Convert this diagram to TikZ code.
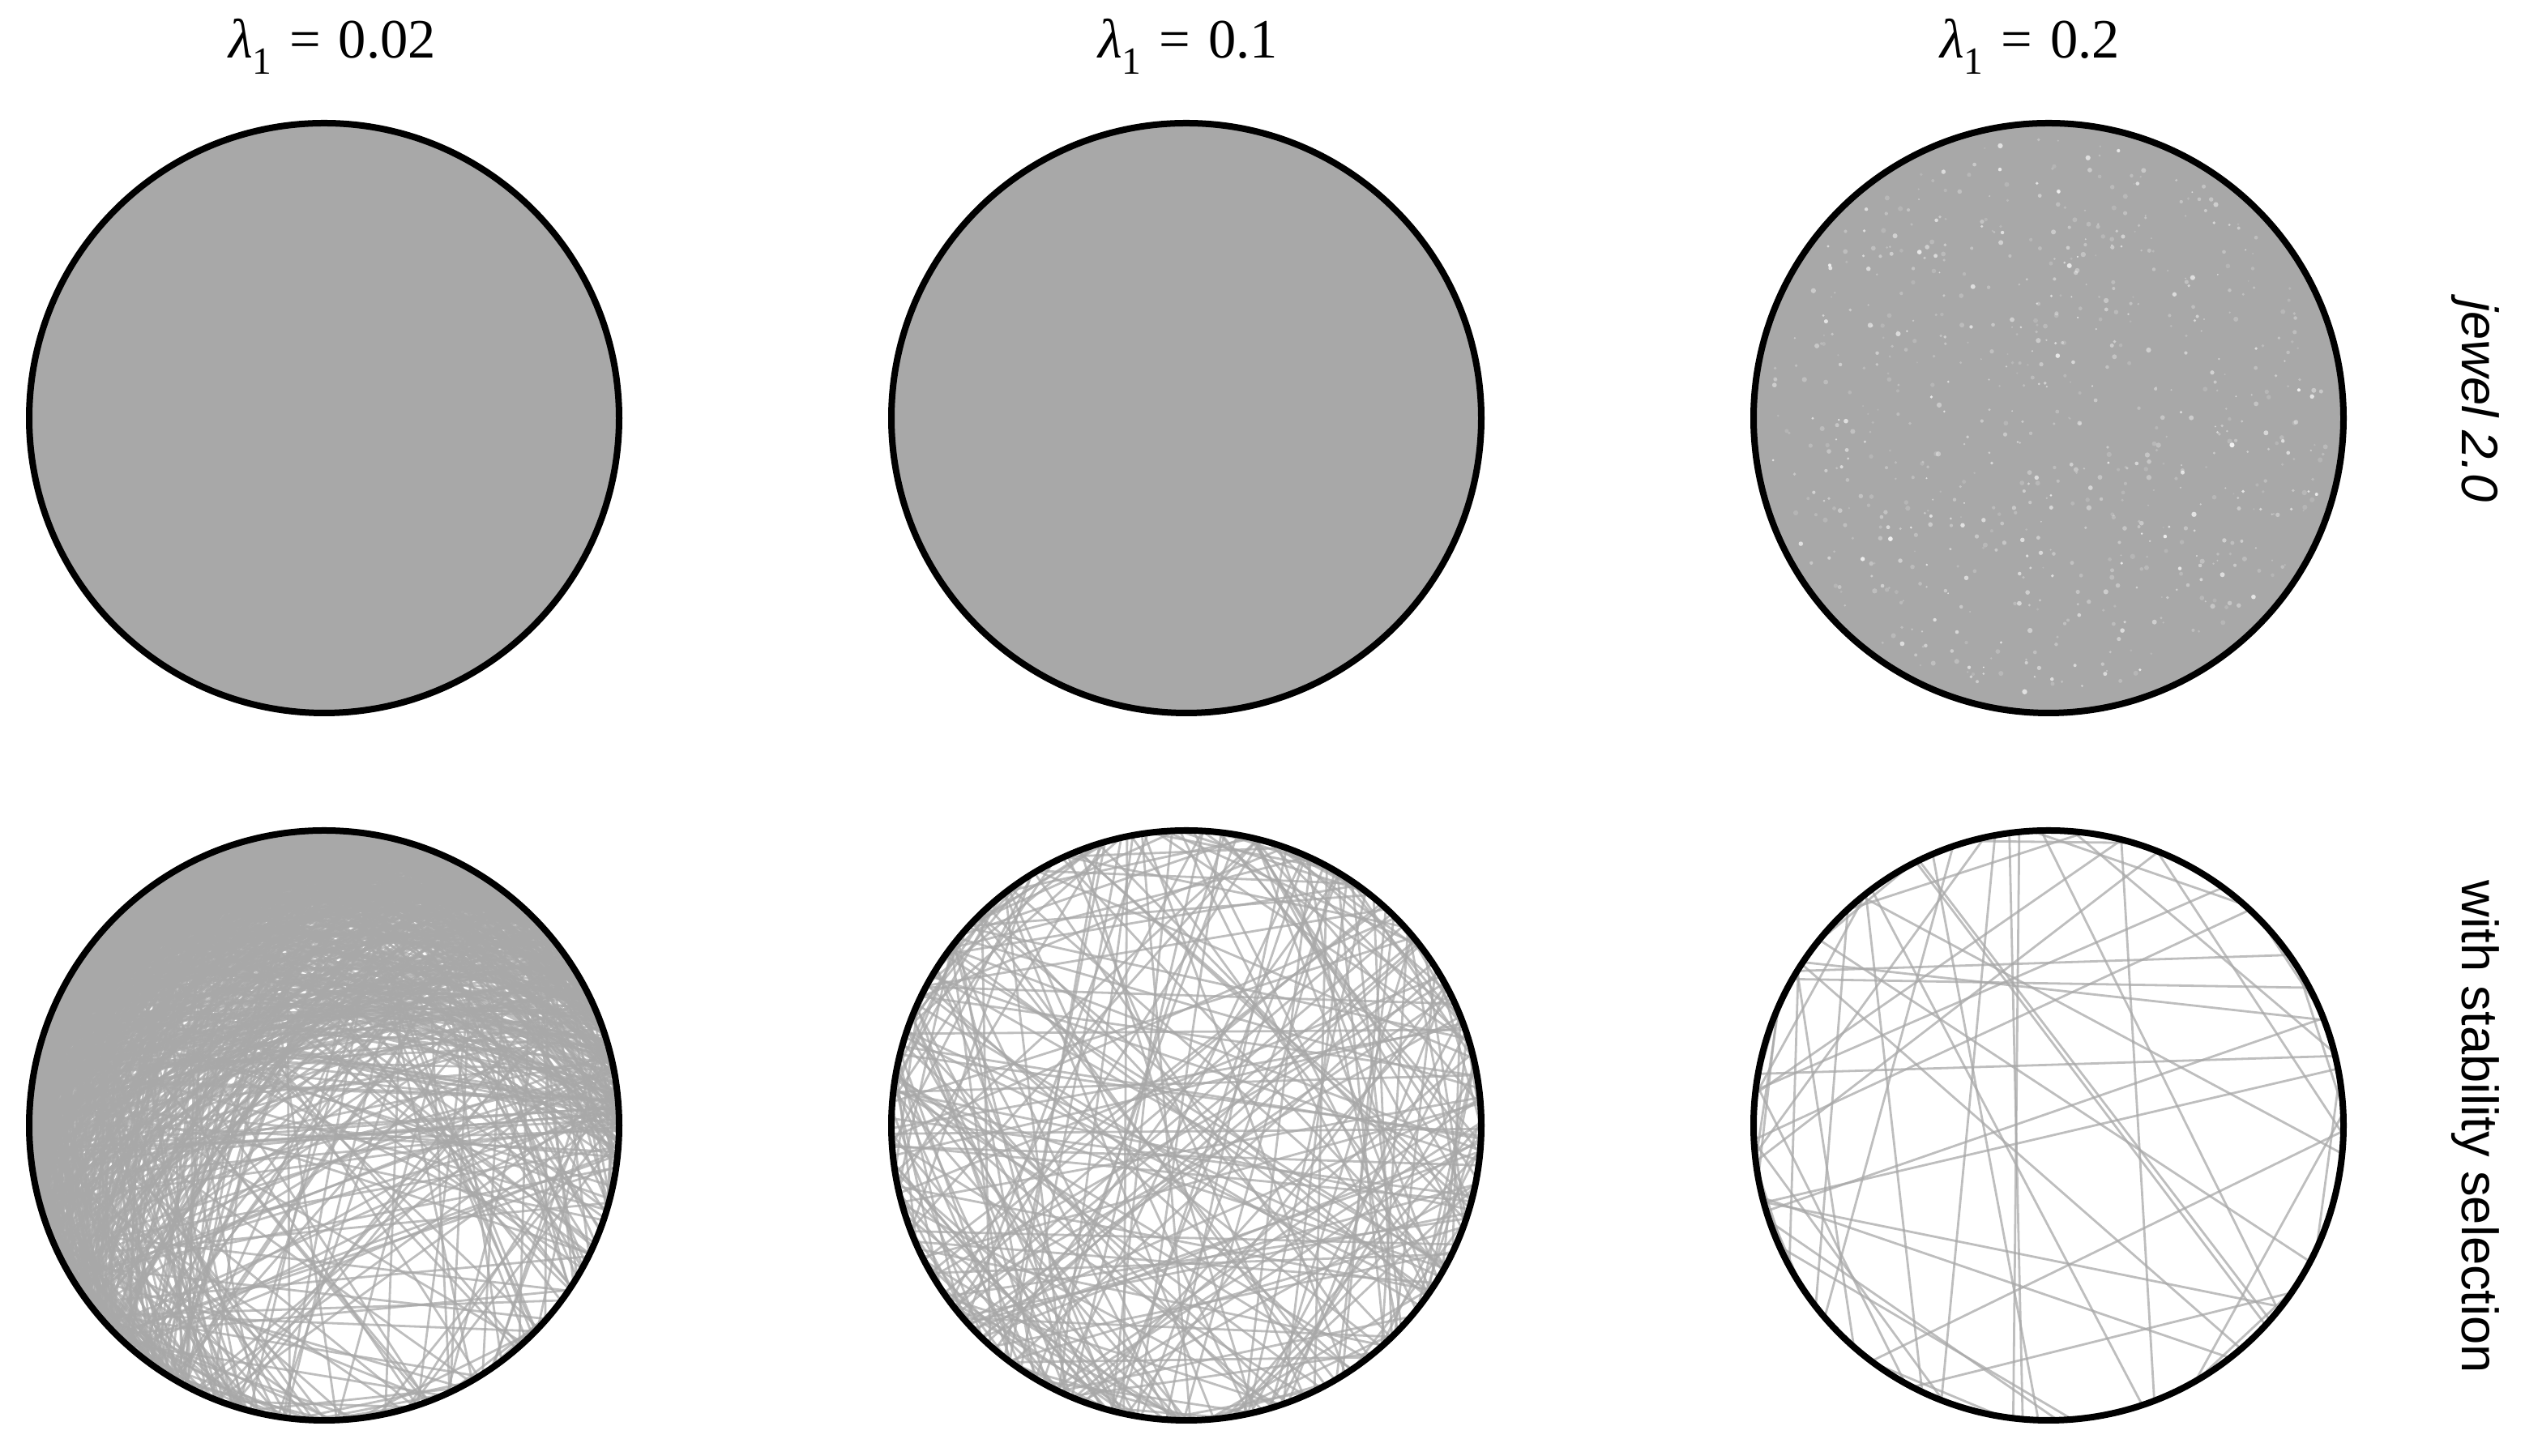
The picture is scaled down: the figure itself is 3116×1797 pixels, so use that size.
\documentclass[tikz,border=0pt]{standalone}
\usepackage{fontspec}
\setmainfont{Liberation Serif}
\setsansfont{Liberation Sans}
\newcommand{\lamlab}[1]{{\itshape λ}\raisebox{-0.28em}{\fontsize{13.5pt}{13.5pt}\selectfont 1}\hspace{0.32em}=\hspace{0.32em}#1}
\begin{document}
\begin{tikzpicture}[x=0.1mm,y=0.1mm]
\definecolor{fillgray}{RGB}{168,168,168}
\tikzset{
  disc/.style={circle, minimum size=72.8mm, inner sep=0pt, outer sep=0pt},
  rim/.style={draw=black, line width=0.8mm},
  chord/.style={draw=fillgray, draw opacity=0.75, line width=0.28mm},
  speck/.style={fill=white},
  title/.style={font=\fontsize{19.5pt}{22pt}\selectfont, anchor=base},
  side/.style={font=\fontsize{18pt}{21pt}\selectfont\sffamily, rotate=-90, anchor=base},
}
\useasboundingbox (0,0) rectangle (3116,1797);

% titles
\node[title] (t1) at (410,1725) {\lamlab{0.02}};
\node[title] (t2) at (1466,1725) {\lamlab{0.1}};
\node[title] (t3) at (2505,1725) {\lamlab{0.2}};

% side labels
\node[side] (s1) at (3038,1302) {\itshape jewel 2.0};
\node[side] (s2) at (3038,406) {with stability selection};

% circles
\node[disc, fill=fillgray] (c1) at (400,1281) {};
\node[disc, fill=fillgray] (c2) at (1464,1281) {};
\node[disc, fill=fillgray] (c3) at (2528,1281) {};
\node[disc] (c4) at (400,408) {};
\node[disc] (c5) at (1464,408) {};
\node[disc] (c6) at (2528,408) {};

% speckles in top right
\pgfmathsetseed{11}
\begin{scope}[shift={(c3.center)}]
  \clip (0,0) circle[radius=364];
  \foreach \i in {1,...,750}{
    \pgfmathsetmacro\rr{345*sqrt(rnd)}
    \pgfmathsetmacro\tt{360*rnd}
    \pgfmathsetmacro\ss{1.0+2.2*rnd}
    \pgfmathsetmacro\oo{0.15+0.8*rnd*rnd}
    \fill[speck, fill opacity=\oo] (\tt:\rr) circle[radius=\ss];
  }
\end{scope}

% bottom left: endpoints concentrated on the upper rim
\pgfmathsetseed{3}
\begin{scope}[shift={(c4.center)}]
  \clip (0,0) circle[radius=364];
  \foreach \i in {1,...,1500}{
    \pgfmathsetmacro\ta{112+110*(rnd+rnd+rnd-1.5)}
    \pgfmathsetmacro\tb{112+110*(rnd+rnd+rnd-1.5)}
    \draw[chord] (\ta:364) -- (\tb:364);
  }
  \foreach \i in {1,...,160}{
    \pgfmathsetmacro\ta{200+80*(rnd+rnd+rnd-1.5)}
    \pgfmathsetmacro\tb{200+80*(rnd+rnd+rnd-1.5)}
    \draw[chord] (\ta:364) -- (\tb:364);
  }
  \foreach \i in {1,...,150}{
    \pgfmathsetmacro\ta{360*rnd}
    \pgfmathsetmacro\tb{360*rnd}
    \draw[chord] (\ta:364) -- (\tb:364);
  }
\end{scope}

% bottom middle
\pgfmathsetseed{5}
\begin{scope}[shift={(c5.center)}]
  \clip (0,0) circle[radius=364];
  \foreach \i in {1,...,270}{
    \pgfmathsetmacro\ta{360*rnd}
    \pgfmathsetmacro\tb{360*rnd}
    \draw[chord] (\ta:364) -- (\tb:364);
  }
\end{scope}

% bottom right
\pgfmathsetseed{9}
\begin{scope}[shift={(c6.center)}]
  \clip (0,0) circle[radius=364];
  \foreach \i in {1,...,55}{
    \pgfmathsetmacro\ta{360*rnd}
    \pgfmathsetmacro\tb{360*rnd}
    \draw[chord] (\ta:364) -- (\tb:364);
  }
\end{scope}

% rims
\foreach \c in {c1,c2,c3,c4,c5,c6}{
  \draw[rim] (\c.center) circle[radius=364];
}
\end{tikzpicture}
\end{document}
